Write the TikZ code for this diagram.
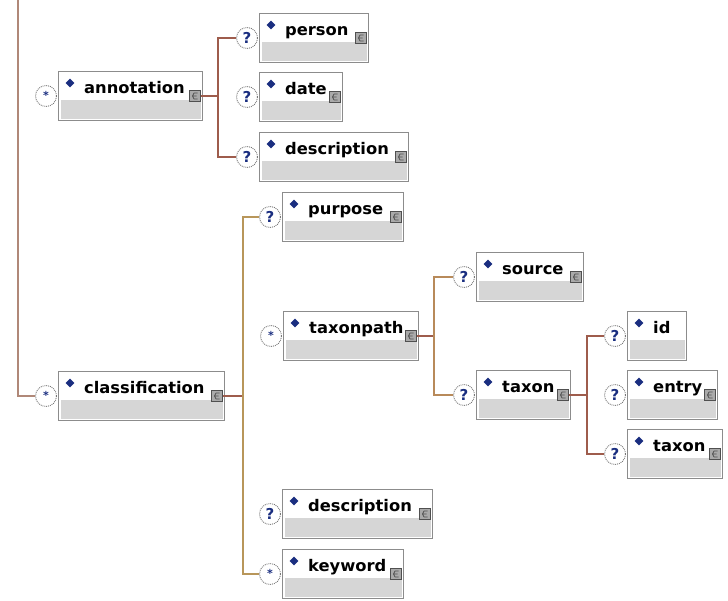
\documentclass[tikz,border=0pt]{standalone}
\usepackage{fontspec}
\setmainfont{DejaVu Sans}
\usetikzlibrary{shapes.geometric}
\definecolor{boxborder}{RGB}{140,140,140}
\definecolor{bandgrey}{RGB}{214,214,214}
\definecolor{navy}{RGB}{26,46,128}
\definecolor{iconfill}{RGB}{170,170,170}
\definecolor{icondark}{RGB}{80,80,80}
\definecolor{occborder}{RGB}{120,120,120}
\definecolor{lbrown}{RGB}{158,92,76}
\definecolor{ltan}{RGB}{184,150,90}
\definecolor{lpink}{RGB}{176,136,120}
\definecolor{lorange}{RGB}{184,138,90}
\tikzset{
  elbox/.style={draw=boxborder, line width=1pt, fill=white, minimum height=49pt, inner sep=0pt, anchor=north west},
  diam/.style={diamond, fill=navy, inner sep=0pt, minimum size=9pt},
  lbl/.style={anchor=base west, inner sep=0pt, font=\bfseries\fontsize{16}{18}\selectfont},
  iconbox/.style={draw=icondark, fill=iconfill, line width=0.8pt, minimum size=11pt, inner sep=0pt},
  occ/.style={circle, draw=occborder, densely dotted, line width=0.9pt, fill=white, minimum size=21pt, inner sep=0pt, text=navy},
  conn/.style={line width=1.1pt}
}
\newcommand\qm{\bfseries\fontsize{15}{15}\selectfont ?}
\newcommand\st{\raisebox{1.5pt}{\bfseries\fontsize{11}{11}\selectfont *}}
% #1 name, #2 x, #3 y, #4 width, #5 label, #6 occurrence symbol, #7 icon (1/0)
\newcommand\elem[7]{%
  \node[elbox, minimum width=#4pt] (#1) at (#2,#3) {};
  \fill[bandgrey] ([xshift=2.5pt,yshift=-29pt]#1.north west) rectangle ([xshift=-2.5pt,yshift=2.5pt]#1.south east);
  \node[diam] (#1-dm) at ([xshift=12pt,yshift=-12pt]#1.north west) {};
  \node[lbl] (#1-lb) at ([xshift=26pt,yshift=-22pt]#1.north west) {\scalebox{1.02}[1]{#5}};
  \ifnum#7=1
    \node[iconbox] (#1-ic) at ([xshift=-8pt,yshift=-25pt]#1.north east) {};
    \draw[icondark, line width=0.7pt, line join=round]
      ([shift={(2.5,-3)}]#1-ic.center) -- ([shift={(-1,-3)}]#1-ic.center)
      -- ([shift={(-2.5,0)}]#1-ic.center) -- ([shift={(-1,3)}]#1-ic.center)
      -- ([shift={(2.5,3)}]#1-ic.center)
      ([shift={(-2.5,0)}]#1-ic.center) -- ([shift={(1.5,0)}]#1-ic.center);
  \fi
  \node[occ] (#1-oc) at ([xshift=-12pt,yshift=-25pt]#1.north west) {#6};
}
\begin{document}
\begin{tikzpicture}[x=1pt,y=-1pt]
\useasboundingbox (0,0) rectangle (728,600);
\coordinate (lt) at (18,0);
\coordinate (ja) at (218,96);
\coordinate (jc) at (243,396);
\coordinate (jt) at (434,336);
\coordinate (jx) at (587,395);
% elements
\elem{annotation}{58}{71}{144}{annotation}{\st}{1}
\elem{person}{259}{13}{109}{person}{\qm}{1}
\elem{date}{259}{72}{83}{date}{\qm}{1}
\elem{desca}{259}{132}{149}{description}{\qm}{1}
\elem{purpose}{282}{192}{121}{purpose}{\qm}{1}
\elem{taxonpath}{283}{311}{135}{taxonpath}{\st}{1}
\elem{source}{476}{252}{107}{source}{\qm}{1}
\elem{taxon}{476}{370}{94}{taxon}{\qm}{1}
\elem{id}{627}{311}{59}{id}{\qm}{0}
\elem{entry}{627}{370}{90}{entry}{\qm}{1}
\elem{taxonb}{627}{429}{95}{taxon}{\qm}{1}
\elem{classification}{58}{371}{166}{classification}{\st}{1}
\elem{descb}{282}{489}{150}{description}{\qm}{1}
\elem{keyword}{282}{549}{121}{keyword}{\st}{1}
% connectors
\draw[conn, lpink] (lt) |- (classification-oc.west);
\draw[conn, lbrown] (annotation-ic.east) -- (ja);
\draw[conn, lbrown] (person-oc.west) -| (ja);
\draw[conn, lbrown] (desca-oc.west) -| (ja);
\draw[conn, lbrown] (classification-ic.east) -- (jc);
\draw[conn, ltan] (purpose-oc.west) -| (jc);
\draw[conn, ltan] (keyword-oc.west) -| (jc);
\draw[conn, lbrown] (taxonpath-ic.east) -- (jt);
\draw[conn, lorange] (source-oc.west) -| (jt);
\draw[conn, lorange] (taxon-oc.west) -| (jt);
\draw[conn, lbrown] (taxon-ic.east) -- (jx);
\draw[conn, lbrown] (id-oc.west) -| (jx);
\draw[conn, lbrown] (taxonb-oc.west) -| (jx);
\end{tikzpicture}
\end{document}
